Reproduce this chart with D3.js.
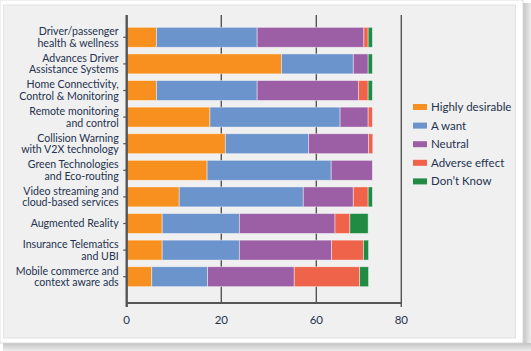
<!DOCTYPE html>
<html>
<head>
<meta charset="utf-8">
<script src="https://cdn.jsdelivr.net/npm/d3@7"></script>
<style>
  body { margin: 0; background: #ffffff; }
  svg { display: block; }
  .ylab text { font-family: Lato, "Open Sans", sans-serif; font-size: 10.6px; fill: #24324f; }
  .xlab { font-family: Lato, "Open Sans", sans-serif; font-size: 11.5px; fill: #24324f; }
  .legend text { font-family: Lato, "Open Sans", sans-serif; font-size: 11.5px; fill: #24324f; }
</style>
</head>
<body>
<div id="chart"></div>
<script>
// categories (line breaks as in the picture)
const categories = [
    "Driver/passenger\nhealth & wellness",
    "Advances Driver\nAssistance Systems",
    "Home Connectivity,\nControl & Monitoring",
    "Remote monitoring\nand control",
    "Collision Warning\nwith V2X technology",
    "Green Technologies\nand Eco-routing",
    "Video streaming and\ncloud-based services",
    "Augmented Reality",
    "Insurance Telematics\nand UBI",
    "Mobile commerce and\ncontext aware ads"
];

const seriesNames = ["Highly desirable", "A want", "Neutral", "Adverse effect", "Don\u2019t Know"];
const seriesColors = ["#f7901e", "#6b93cc", "#9c5fa5", "#f0634b", "#218a43"];

const highlyDesirable = [6.3, 45.3, 6.3, 17.6, 21.7, 17.0, 11.1, 7.5, 7.5, 5.3];
const aWant           = [28.8, 23.4, 28.8, 48.0, 35.0, 46.5, 43.4, 20.1, 20.1, 11.8];
const neutral         = [36.1, 3.5, 34.8, 6.6, 15.6, 9.7, 14.2, 36.8, 36.0, 33.6];
const adverseEffect   = [1.0, 0, 2.3, 1.0, 1.0, 0, 3.5, 3.5, 7.5, 19.5];
const dontKnow        = [1.0, 1.0, 1.0, 0, 0, 0, 1.0, 4.3, 1.2, 2.1];

const xTicks = [0, 20, 60, 80];

const W = 531, H = 351;

const svg = d3.select("#chart").append("svg")
    .attr("width", W)
    .attr("height", H);

// card with shadow
const defs = svg.append("defs");
const gr = defs.append("linearGradient").attr("id", "shR")
    .attr("x1", "0%").attr("x2", "100%").attr("y1", "0%").attr("y2", "0%");
gr.append("stop").attr("offset", "0%").attr("stop-color", "#c4c4c4");
gr.append("stop").attr("offset", "100%").attr("stop-color", "#ececec");
const gb = defs.append("linearGradient").attr("id", "shB")
    .attr("x1", "0%").attr("x2", "0%").attr("y1", "0%").attr("y2", "100%");
gb.append("stop").attr("offset", "0%").attr("stop-color", "#c4c4c4");
gb.append("stop").attr("offset", "100%").attr("stop-color", "#ececec");

svg.append("rect").attr("x", 523).attr("y", 3).attr("width", 8).attr("height", 348).attr("fill", "url(#shR)");
svg.append("rect").attr("x", 3).attr("y", 343).attr("width", 528).attr("height", 8).attr("fill", "url(#shB)");
svg.append("rect").attr("x", 0).attr("y", 0).attr("width", 523).attr("height", 343)
    .attr("fill", "#ffffff").attr("stroke", "#d8d8d8").attr("stroke-width", 0.8);
svg.append("rect").attr("x", 3.5).attr("y", 5).attr("width", 512).attr("height", 333)
    .attr("fill", "#f0f0f0").attr("stroke", "#e2e2e2").attr("stroke-width", 1);

// plot area
const plotLeft = 126.7, plotRight = 401.3, plotTop = 15, axisY = 303;
const pw = plotRight - plotLeft;

// the printed axis is not evenly spaced, so a piecewise scale follows its ticks
const x = d3.scaleLinear()
    .domain(xTicks)
    .range([plotLeft, plotLeft + pw * 0.3445, plotLeft + pw * 0.6905, plotRight]);

const y = d3.scaleBand()
    .domain(categories)
    .range([24, 290])
    .paddingInner(0.25)
    .paddingOuter(0.125);

// gridlines
svg.append("g")
    .selectAll("line")
    .data(xTicks.slice(1))
    .join("line")
    .attr("x1", d => x(d)).attr("x2", d => x(d))
    .attr("y1", plotTop).attr("y2", axisY)
    .attr("stroke", "#555").attr("stroke-width", 1.4);

// stacked bars
const table = categories.map((c, i) => ({
    cat: c,
    s0: highlyDesirable[i], s1: aWant[i], s2: neutral[i], s3: adverseEffect[i], s4: dontKnow[i]
}));
const stack = d3.stack().keys(["s0", "s1", "s2", "s3", "s4"])(table);

svg.append("g")
    .selectAll("g")
    .data(stack)
    .join("g")
    .attr("fill", (d, i) => seriesColors[i])
    .selectAll("rect")
    .data(d => d.filter(p => p[1] - p[0] > 0))
    .join("rect")
    .attr("x", d => x(d[0]))
    .attr("y", d => y(d.data.cat))
    .attr("width", d => x(d[1]) - x(d[0]))
    .attr("height", y.bandwidth())
    .attr("stroke", "rgba(255,255,255,0.55)")
    .attr("stroke-width", 0.8);

// x axis
const xAxis = svg.append("g");
xAxis.append("line")
    .attr("x1", plotLeft).attr("x2", plotRight)
    .attr("y1", axisY).attr("y2", axisY)
    .attr("stroke", "#555").attr("stroke-width", 2);
xAxis.append("line")
    .attr("x1", plotRight).attr("x2", plotRight)
    .attr("y1", axisY).attr("y2", axisY + 4)
    .attr("stroke", "#555").attr("stroke-width", 1.4);
xAxis.selectAll("text")
    .data(xTicks)
    .join("text")
    .attr("class", "xlab")
    .attr("x", d => x(d))
    .attr("y", 324)
    .attr("text-anchor", "middle")
    .text(d => d);

// y axis
const yAxis = svg.append("g")
    .attr("class", "ylab")
    .attr("transform", `translate(${plotLeft},0)`)
    .call(d3.axisLeft(y).tickSize(3.5).tickPadding(5).tickFormat(""));
yAxis.select(".domain").remove();
yAxis.selectAll(".tick line").attr("stroke", "#555").attr("stroke-width", 1.2);
yAxis.append("line")
    .attr("x1", 0).attr("x2", 0)
    .attr("y1", plotTop).attr("y2", axisY + 4)
    .attr("stroke", "#555").attr("stroke-width", 2.4);

yAxis.selectAll(".tick").each(function(d) {
    const lines = d.split("\n");
    const t = d3.select(this).append("text")
        .attr("x", -8)
        .attr("text-anchor", "end");
    const lh = 11.6;
    lines.forEach((ln, k) => {
        t.append("tspan")
            .attr("x", -8)
            .attr("y", (k - (lines.length - 1) / 2) * lh)
            .attr("dy", "0.35em")
            .text(ln);
    });
});

// legend
const legend = svg.append("g")
    .attr("class", "legend")
    .attr("transform", "translate(413,107)");
const li = legend.selectAll("g")
    .data(seriesNames)
    .join("g")
    .attr("transform", (d, i) => `translate(0,${i * 18.6})`);
li.append("rect")
    .attr("x", 0).attr("y", -3)
    .attr("width", 14).attr("height", 6)
    .attr("fill", (d, i) => seriesColors[i]);
li.append("text")
    .attr("x", 18)
    .attr("y", 0)
    .attr("dy", "0.35em")
    .text(d => d);
</script>
</body>
</html>
